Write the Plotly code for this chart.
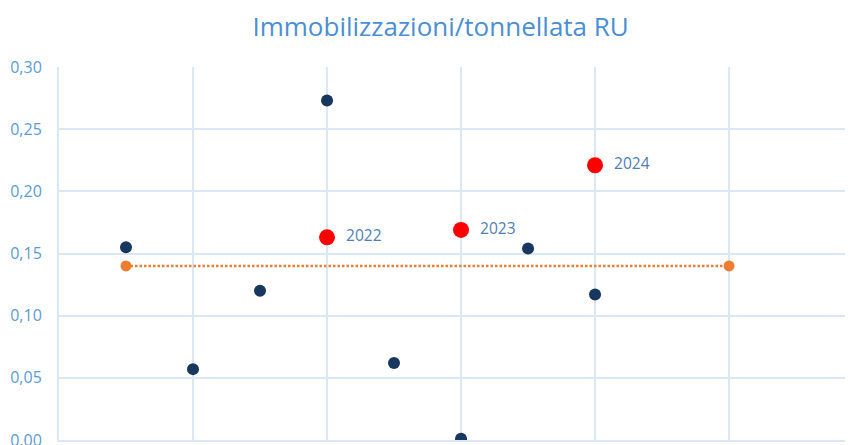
import plotly.graph_objects as go

# Data
scatter_x = [0.5, 1.0, 1.5, 2.0, 2.5, 3.0, 3.5, 4.0]
scatter_y = [0.155, 0.057, 0.120, 0.273, 0.062, 0.001, 0.154, 0.117]

highlight_x = [2.0, 3.0, 4.0]
highlight_y = [0.163, 0.169, 0.221]
highlight_labels = ["2022", "2023", "2024"]

avg_x = [0.5, 5.0]
avg_y = [0.14, 0.14]

y_ticks = [0.0, 0.05, 0.10, 0.15, 0.20, 0.25, 0.30]
y_tick_labels = ["0,00", "0,05", "0,10", "0,15", "0,20", "0,25", "0,30"]

GRID = "#DAE7F4"
FONT = "Open Sans, sans-serif"

fig = go.Figure()

fig.add_trace(go.Scatter(
    x=avg_x, y=avg_y, mode="lines+markers",
    line=dict(color="#ED7D31", width=2.5, dash="2.5px,2px"),
    marker=dict(color="#ED7D31", size=11),
    showlegend=False, hoverinfo="skip",
))

fig.add_trace(go.Scatter(
    x=scatter_x, y=scatter_y, mode="markers",
    marker=dict(color="#17375E", size=12),
    showlegend=False,
))

fig.add_trace(go.Scatter(
    x=highlight_x, y=highlight_y, mode="markers+text",
    marker=dict(color="#FF0000", size=16),
    text=highlight_labels, texttemplate="  %{text}", textposition="middle right",
    textfont=dict(family=FONT, size=15.5, color="#4F7DB5"),
    showlegend=False,
))

fig.update_layout(
    width=845, height=437,
    margin=dict(l=51, r=0, t=59, b=5, autoexpand=False),
    paper_bgcolor="white", plot_bgcolor="white",
    title=dict(
        text="Immobilizzazioni/tonnellata RU",
        x=0.512, xanchor="center", y=0.978, yanchor="top",
        font=dict(family=FONT, size=26, color="#4A8FD4"),
    ),
)

fig.update_xaxes(
    range=[0, 5.925], tickvals=[0, 1, 2, 3, 4, 5, 6], showticklabels=False,
    showgrid=True, gridcolor=GRID, gridwidth=2, automargin=False,
    zeroline=False, showline=True, linecolor=GRID, linewidth=2,
)
fig.update_yaxes(
    range=[0, 0.30], tickvals=y_ticks, ticktext=y_tick_labels,
    showgrid=True, gridcolor=GRID, gridwidth=2, automargin=False,
    zeroline=False, showline=True, linecolor=GRID, linewidth=2,
    tickfont=dict(family=FONT, size=16, color="#5B9BD5"),
    ticklabelstandoff=12, ticklabeloverflow="allow",
)

fig.write_html("out.html")
